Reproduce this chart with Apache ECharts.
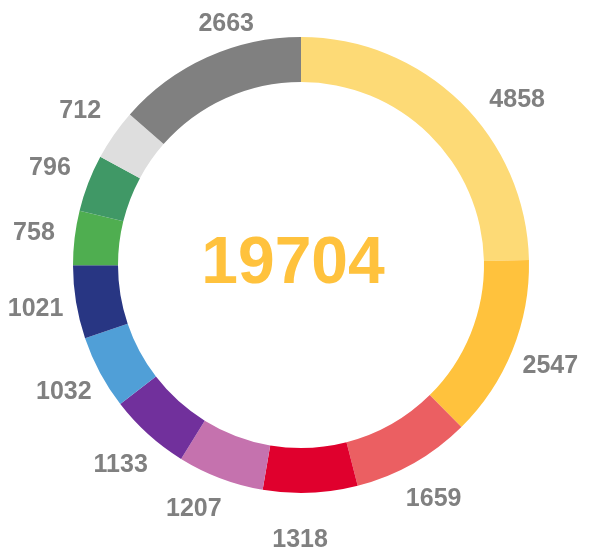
<!DOCTYPE html>
<html>
<head>
<meta charset="utf-8">
<style>
  html, body { margin: 0; padding: 0; background: #ffffff; }
  #chart { width: 589px; height: 547px; }
</style>
<script src="https://cdn.jsdelivr.net/npm/echarts@6/dist/echarts.min.js"></script>
</head>
<body>
<div id="chart"></div>
<script>
// segment values, clockwise from 12 o'clock
const values = [4858, 2547, 1659, 1318, 1207, 1133, 1032, 1021, 758, 796, 712, 2663];
const colors = [
  '#FDDA76', '#FFC23D', '#EB5F62', '#E0002D', '#C572AE', '#71309C',
  '#509FD7', '#283683', '#4FAE50', '#409866', '#DEDEDE', '#808080'
];
// a couple of labels were nudged away from the radial spot in the original
const labelNudge = { 0: [28, 27], 3: [-12, 6], 4: [-12, -8], 11: [36, 4] };

const total = values.reduce((a, b) => a + b, 0);
const center = [301, 265];

const ringData = values.map((v, i) => ({ value: v, itemStyle: { color: colors[i] } }));
const labelData = values.map((v, i) => ({
  value: v,
  label: labelNudge[i] ? { offset: labelNudge[i] } : {}
}));

const chart = echarts.init(document.getElementById('chart'));
chart.setOption({
  animation: false,
  series: [
    {
      type: 'pie',
      center: center,
      radius: [183, 228],
      startAngle: 90,
      clockwise: true,
      avoidLabelOverlap: false,
      silent: true,
      label: { show: false },
      labelLine: { show: false },
      itemStyle: { borderWidth: 0 },
      data: ringData
    },
    {
      // invisible ring that only carries the value labels
      type: 'pie',
      center: center,
      radius: [250, 282],
      startAngle: 90,
      clockwise: true,
      avoidLabelOverlap: false,
      silent: true,
      itemStyle: { color: 'rgba(0,0,0,0)', borderWidth: 0 },
      label: {
        show: true,
        position: 'inside',
        rotate: 0,
        formatter: '{c}',
        color: '#808080',
        fontFamily: 'Liberation Sans, Arial, sans-serif',
        fontWeight: 'bold',
        fontSize: 25
      },
      labelLine: { show: false },
      data: labelData
    }
  ],
  graphic: [
    {
      type: 'text',
      x: 293,
      y: 265,
      style: {
        text: String(total),
        fill: '#FFC23D',
        font: 'bold 66px "Liberation Sans", Arial, sans-serif',
        align: 'center',
        verticalAlign: 'middle'
      }
    }
  ]
});
</script>
</body>
</html>
